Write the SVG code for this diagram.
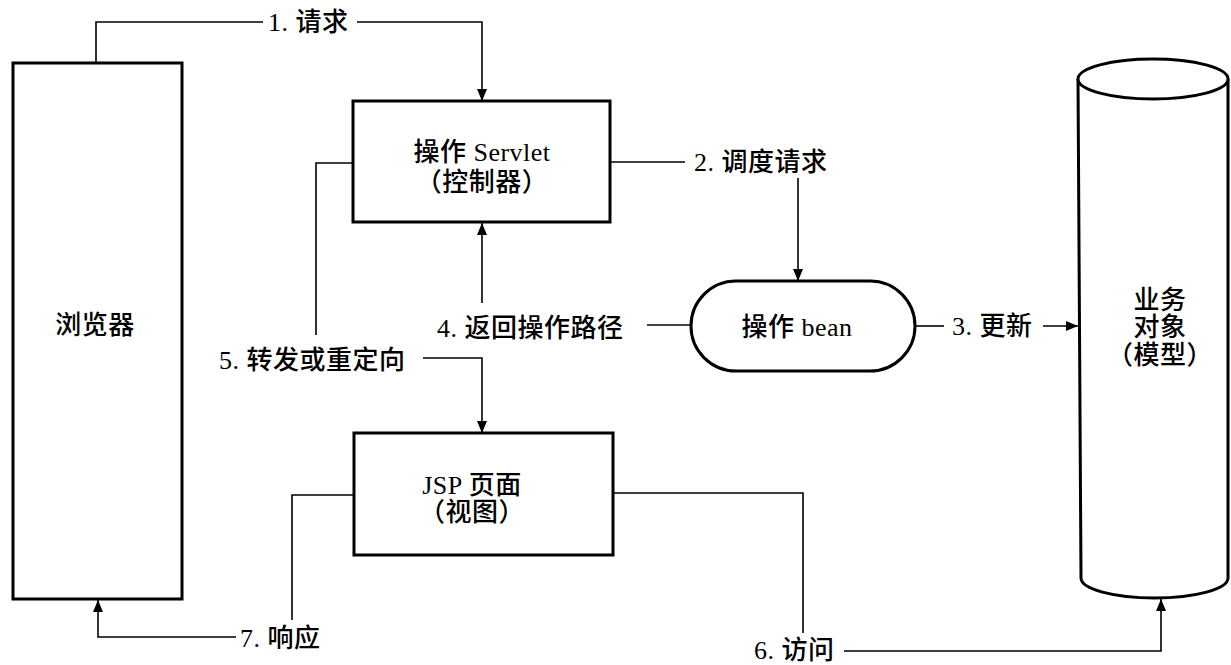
<svg xmlns="http://www.w3.org/2000/svg" width="1231" height="665" viewBox="0 0 1231 665">
<style>
.box{fill:#fff;stroke:#000;stroke-width:3}
.con{fill:none;stroke:#000;stroke-width:1.6}
.t{font-family:"Liberation Serif","Noto Sans CJK SC",serif;font-size:26px;font-weight:500;fill:#000;letter-spacing:0.5px}
.m{text-anchor:middle}
</style>
<defs>
<marker id="arr" markerUnits="userSpaceOnUse" markerWidth="13" markerHeight="11" refX="12" refY="5" orient="auto">
<path d="M0,0 L12,5 L0,10 z" fill="#000"/>
</marker>
</defs>
<rect width="1231" height="665" fill="#fff"/>
<g id="connectors">
<path class="con" d="M96,63 V22 H263"/>
<path class="con" d="M357,22 H482 V101" marker-end="url(#arr)"/>
<path class="con" d="M610,162 H685"/>
<path class="con" d="M798,178 V281" marker-end="url(#arr)"/>
<path class="con" d="M915,326 H944"/>
<path class="con" d="M1043,326 H1078" marker-end="url(#arr)"/>
<path class="con" d="M691,325 H647"/>
<path class="con" d="M482,303 V223" marker-end="url(#arr)"/>
<path class="con" d="M353,163 H316 V335"/>
<path class="con" d="M423,358 H482 V433" marker-end="url(#arr)"/>
<path class="con" d="M613,493 H803 V633"/>
<path class="con" d="M844,651 H1161 V599" marker-end="url(#arr)"/>
<path class="con" d="M354,495 H292 V620"/>
<path class="con" d="M236,637 H98 V600" marker-end="url(#arr)"/>
<text class="t" x="268" y="31">1. 请求</text>
<text class="t" x="694" y="171">2. 调度请求</text>
<text class="t" x="952" y="335">3. 更新</text>
<text class="t" x="437" y="337">4. 返回操作路径</text>
<text class="t" x="219" y="369">5. 转发或重定向</text>
<text class="t" x="754" y="659">6. 访问</text>
<text class="t" x="240" y="647">7. 响应</text>
</g>
<g id="browser">
<rect class="box" x="13" y="63" width="169" height="536"/>
<text class="t m" x="95" y="334">浏览器</text>
</g>
<g id="servlet">
<rect class="box" x="353" y="101" width="257" height="121"/>
<text class="t m" x="482" y="161">操作 Servlet</text>
<text class="t m" x="482" y="191">（控制器）</text>
</g>
<g id="bean">
<rect class="box" x="691" y="281" width="224" height="90" rx="45" ry="45"/>
<text class="t m" x="797" y="336">操作 bean</text>
</g>
<g id="jsp">
<rect class="box" x="354" y="433" width="259" height="122"/>
<text class="t m" x="472" y="494">JSP 页面</text>
<text class="t m" x="472" y="521">（视图）</text>
</g>
<g id="model">
<path class="box" d="M1078,79 L1081,578 A73.5,20 0 0 0 1228,578 L1228,79"/>
<ellipse class="box" cx="1153" cy="79" rx="75" ry="20"/>
<text class="t m" x="1160" y="309">业务</text>
<text class="t m" x="1160" y="336">对象</text>
<text class="t m" x="1160" y="364">（模型）</text>
</g>
</svg>
